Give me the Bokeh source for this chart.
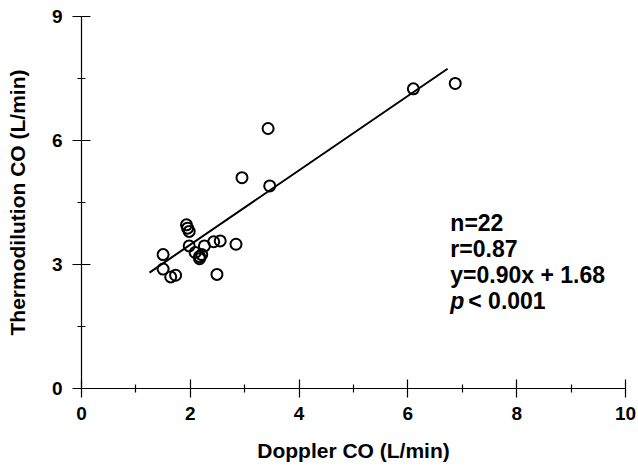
from bokeh.plotting import figure
from bokeh.models import FixedTicker, Label, Range1d
from bokeh.embed import file_html
from bokeh.resources import INLINE

# Data
doppler = [6.87, 6.10, 3.43, 3.46, 2.95,
           1.93, 1.95, 1.98, 1.98, 1.50, 1.50, 1.64, 1.73,
           2.09, 2.17, 2.26, 2.21, 2.17, 2.43, 2.55, 2.84, 2.49]
thermo = [7.38, 7.25, 6.29, 4.90, 5.10,
          3.96, 3.88, 3.80, 3.45, 3.24, 2.89, 2.70, 2.74,
          3.29, 3.19, 3.45, 3.24, 3.14, 3.55, 3.57, 3.49, 2.76]
slope = 0.90
intercept = 1.68
fit_x = [1.25, 6.73]
fit_y = [slope * v + intercept for v in fit_x]

x_major = [0, 2, 4, 6, 8, 10]
x_minor = [1, 3, 5, 7, 9]
y_major = [0, 3, 6, 9]
y_minor = [1.5, 4.5, 7.5]

stats = ["n=22", "r=0.87", "y=0.90x + 1.68"]
p_text = "< 0.001"

FONT = "Liberation Sans"

p = figure(width=638, height=467, output_backend="svg", toolbar_location=None,
           x_range=Range1d(0, 10), y_range=Range1d(0, 9),
           min_border_left=81, min_border_right=13, min_border_top=16, min_border_bottom=79)
p.outline_line_color = None
p.xgrid.visible = False
p.ygrid.visible = False
p.background_fill_color = "white"
p.border_fill_color = "white"

for ax, maj, mino in ((p.xaxis[0], x_major, x_minor), (p.yaxis[0], y_major, y_minor)):
    ax.ticker = FixedTicker(ticks=maj, minor_ticks=mino)
    ax.axis_line_color = "black"
    ax.axis_line_width = 1.2
    ax.major_tick_line_color = "black"
    ax.minor_tick_line_color = "black"
    ax.major_tick_line_width = 1.2
    ax.minor_tick_line_width = 1.2
    ax.major_tick_in = 9
    ax.major_tick_out = 9
    ax.minor_tick_in = 4
    ax.minor_tick_out = 4
    ax.major_label_text_font = FONT
    ax.major_label_text_font_style = "bold"
    ax.major_label_text_font_size = "19px"
    ax.major_label_text_color = "black"
    ax.axis_label_text_font = FONT
    ax.axis_label_text_font_style = "bold"
    ax.axis_label_text_font_size = "21px"
    ax.axis_label_text_color = "black"

p.xaxis.axis_label = "Doppler CO (L/min)"
p.yaxis.axis_label = "Thermodilution CO (L/min)"
p.xaxis.major_label_standoff = 9
p.yaxis.major_label_standoff = 10
p.xaxis.axis_label_standoff = 16
p.yaxis.axis_label_standoff = 20

p.line(fit_x, fit_y, line_color="black", line_width=2)
p.scatter(doppler, thermo, marker="circle", size=11, fill_alpha=0,
          line_color="black", line_width=2)

base_y = 4.016
step = 0.629
for i, s in enumerate(stats):
    p.add_layout(Label(x=6.78, y=base_y - i * step, text=s, text_font=FONT,
                       text_font_style="bold", text_font_size="23px",
                       text_color="black", text_baseline="alphabetic"))
p.add_layout(Label(x=6.78, y=base_y - 3 * step, text="p", text_font=FONT,
                   text_font_style="bold italic", text_font_size="23px",
                   text_color="black", text_baseline="alphabetic"))
p.add_layout(Label(x=7.11, y=base_y - 3 * step, text=p_text, text_font=FONT,
                   text_font_style="bold", text_font_size="23px",
                   text_color="black", text_baseline="alphabetic"))

open("out.html", "w").write(file_html(p, INLINE))
